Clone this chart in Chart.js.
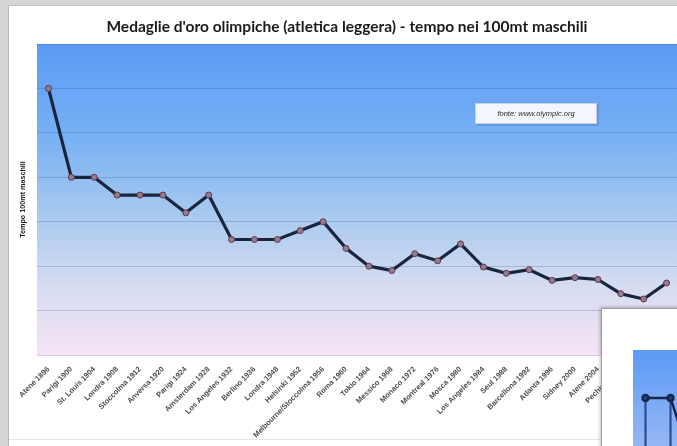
<!DOCTYPE html>
<html lang="it">
<head>
  <meta charset="UTF-8">
  <title>Medaglie d'oro olimpiche - 100mt maschili</title>
  <script src="https://cdn.jsdelivr.net/npm/chart.js"></script>
  <style>
    html, body {
      margin: 0;
      padding: 0;
      width: 677px;
      height: 446px;
      overflow: hidden;
      background: #d6d6d4;
    }
    #sheet {
      position: absolute;
      left: 8px;
      top: 5px;
      width: 700px;
      height: 445px;
      background: #ffffff;
      border-left: 1px solid #b9b9b6;
      border-top: 1px solid #c4c4c2;
    }
    #sheet-bottom {
      position: absolute;
      left: 9px;
      top: 439px;
      width: 700px;
      height: 1px;
      background: #e6e6e6;
    }
    #main-wrap {
      position: absolute;
      left: 8px;
      top: 5px;
      width: 694px;
      height: 438px;
    }
    #fonte {
      position: absolute;
      left: 475px;
      top: 103px;
      width: 120px;
      height: 19px;
      background: #f3f6fc;
      border: 1px solid #c9d2e4;
      box-shadow: 1px 1px 2px rgba(40, 60, 100, 0.35);
      font-family: "Liberation Sans", sans-serif;
      font-style: italic;
      font-size: 7.5px;
      color: #2a2a2a;
      line-height: 19px;
      text-align: center;
    }
    #panel {
      position: absolute;
      left: 601px;
      top: 308px;
      width: 200px;
      height: 300px;
      background: #ffffff;
      border: 1px solid #9e9e9e;
      box-shadow: -1px -1px 3px rgba(0, 0, 0, 0.25);
      overflow: hidden;
    }
  </style>
</head>
<body>

  <div id="sheet"></div>
  <div id="sheet-bottom"></div>
  <div id="main-wrap">
    <canvas id="tempi-chart" width="694" height="438"></canvas>
  </div>
  <div id="fonte">fonte: www.olympic.org</div>
  <div id="panel">
    <canvas id="panel-chart" width="200" height="300"></canvas>
  </div>

<script>
  // sedi e anni delle olimpiadi
  const edizioni = [
    'Atene 1896', 'Parigi 1900', 'St. Louis 1904', 'Londra 1908', 'Stoccolma 1912',
    'Anversa 1920', 'Parigi 1924', 'Amsterdam 1928', 'Los Angeles 1932', 'Berlino 1936',
    'Londra 1948', 'Helsinki 1952', 'Melbourne/Stoccolma 1956', 'Roma 1960', 'Tokio 1964',
    'Messico 1968', 'Monaco 1972', 'Montreal 1976', 'Mosca 1980', 'Los Angeles 1984',
    'Seul 1988', 'Barcellona 1992', 'Atlanta 1996', 'Sidney 2000', 'Atene 2004',
    'Pechino 2008', 'Londra 2012', 'Rio 2016'
  ];

  // tempi dei vincitori (secondi)
  const tempi = [
    12.0, 11.0, 11.0, 10.8, 10.8,
    10.8, 10.6, 10.8, 10.3, 10.3,
    10.3, 10.4, 10.5, 10.2, 10.0,
    9.95, 10.14, 10.06, 10.25, 9.99,
    9.92, 9.96, 9.84, 9.87, 9.85,
    9.69, 9.63, 9.81
  ];

  // scala asse y
  const yMin = 9.0;
  const yMax = 12.5;
  const yPasso = 0.5;

  // secondo grafico (in basso a destra)
  const panelEdizioni = ['1896', '1900', '1904', '1908'];
  const panelTempi = [12.2, 12.2, 11.0, 10.9];

  // sfondo sfumato dell'area del grafico
  const sfondoArea = {
    id: 'sfondoArea',
    beforeDraw(chart) {
      const { ctx, chartArea } = chart;
      if (!chartArea) return;
      const g = ctx.createLinearGradient(0, chartArea.top, 0, chartArea.bottom);
      g.addColorStop(0, '#5b9bf5');
      g.addColorStop(0.3, '#78b1f4');
      g.addColorStop(0.55, '#a8c9ef');
      g.addColorStop(0.78, '#d6dcf1');
      g.addColorStop(1, '#f6e3f5');
      ctx.save();
      ctx.fillStyle = g;
      ctx.fillRect(chartArea.left, chartArea.top, chartArea.right - chartArea.left, chartArea.bottom - chartArea.top);
      ctx.restore();
    }
  };

  const ctx = document.getElementById('tempi-chart').getContext('2d');
  new Chart(ctx, {
    type: 'line',
    data: {
      labels: edizioni,
      datasets: [{
        label: 'Tempo 100mt maschili',
        data: tempi,
        borderColor: '#18253d',
        borderWidth: 3.2,
        pointRadius: 3,
        pointBackgroundColor: '#8b8094',
        pointBorderColor: '#6a3345',
        pointBorderWidth: 1,
        tension: 0
      }]
    },
    options: {
      responsive: false,
      animation: false,
      layout: {
        padding: { left: 8, right: 24, top: 0, bottom: 0 }
      },
      plugins: {
        legend: { display: false },
        tooltip: { enabled: false },
        title: {
          display: true,
          text: "Medaglie d'oro olimpiche (atletica leggera) - tempo nei 100mt maschili",
          color: '#1a1a1a',
          font: { family: 'Lato', size: 15.5, weight: 'bold' },
          padding: { top: 13, bottom: 7.4 }
        }
      },
      scales: {
        x: {
          offset: true,
          grid: { display: false },
          border: { display: false },
          ticks: {
            autoSkip: false,
            maxRotation: 45,
            minRotation: 45,
            padding: 2,
            color: '#4e4e4e',
            font: { family: 'Liberation Sans', size: 7.5, weight: 'bold' }
          },
          afterFit(scale) { scale.height = 88; }
        },
        y: {
          min: yMin,
          max: yMax,
          border: { display: false },
          grid: { color: 'rgba(45, 65, 105, 0.22)', lineWidth: 1, drawTicks: false },
          ticks: { display: false, stepSize: yPasso },
          title: {
            display: true,
            text: 'Tempo 100mt maschili',
            color: '#1e1e1e',
            font: { family: 'Liberation Sans', size: 7.2, weight: 'bold' },
            padding: { top: 2.5, bottom: 0 }
          },
          afterFit(scale) { scale.width = 21; }
        }
      }
    },
    plugins: [sfondoArea]
  });

  // grafico sovrapposto, si vede solo l'angolo
  const ctx2 = document.getElementById('panel-chart').getContext('2d');
  new Chart(ctx2, {
    data: {
      labels: panelEdizioni,
      datasets: [{
        type: 'line',
        data: panelTempi,
        borderColor: '#17274a',
        borderWidth: 2.5,
        pointRadius: 3,
        pointBackgroundColor: '#2a3f78',
        pointBorderColor: '#17274a',
        tension: 0,
        order: 1
      }, {
        type: 'bar',
        data: panelTempi,
        backgroundColor: '#2c4a8a',
        barThickness: 1.5,
        order: 2
      }]
    },
    options: {
      responsive: false,
      animation: false,
      layout: { padding: { left: 31, top: 41, right: 69, bottom: 0 } },
      plugins: {
        legend: { display: false },
        tooltip: { enabled: false }
      },
      scales: {
        x: {
          offset: true,
          display: false
        },
        y: {
          min: 9,
          max: 12.95,
          display: false
        }
      }
    },
    plugins: [{
      id: 'sfondoPanel',
      beforeDraw(chart) {
        const { ctx, chartArea } = chart;
        const g = ctx.createLinearGradient(0, chartArea.top, 0, chartArea.bottom);
        g.addColorStop(0, '#5b9bf5');
        g.addColorStop(1, '#f6e3f5');
        ctx.save();
        ctx.fillStyle = g;
        ctx.fillRect(chartArea.left, chartArea.top, 200, chartArea.bottom - chartArea.top);
        ctx.restore();
      }
    }]
  });
</script>

</body>
</html>
